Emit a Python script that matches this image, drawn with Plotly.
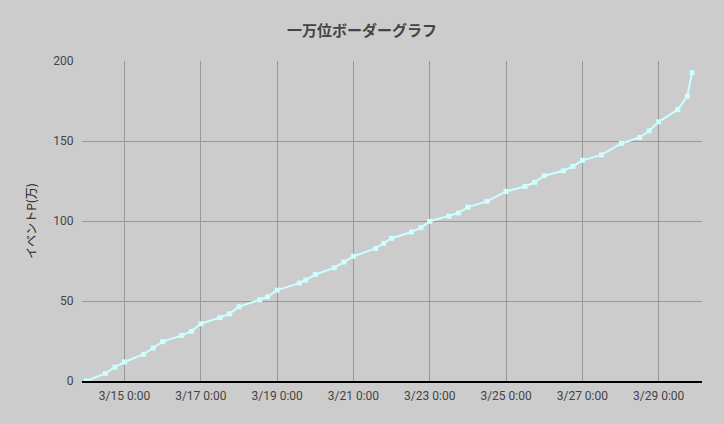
import plotly.graph_objects as go

# 一万位ボーダー (event points, unit: 万)
times = [
    "2024-03-14 00:00", "2024-03-14 12:00", "2024-03-14 18:00",
    "2024-03-15 00:00", "2024-03-15 12:00", "2024-03-15 18:00",
    "2024-03-16 00:00", "2024-03-16 12:00", "2024-03-16 18:00",
    "2024-03-17 00:00", "2024-03-17 12:00", "2024-03-17 18:00",
    "2024-03-18 00:00", "2024-03-18 13:00", "2024-03-18 18:00",
    "2024-03-19 00:00", "2024-03-19 14:00", "2024-03-19 18:00",
    "2024-03-20 00:00", "2024-03-20 12:00", "2024-03-20 18:00",
    "2024-03-21 00:00", "2024-03-21 14:00", "2024-03-21 19:00",
    "2024-03-22 00:00", "2024-03-22 12:30", "2024-03-22 18:30",
    "2024-03-23 00:00", "2024-03-23 12:00", "2024-03-23 18:00",
    "2024-03-24 00:00", "2024-03-24 12:00",
    "2024-03-25 00:00", "2024-03-25 12:00", "2024-03-25 18:00",
    "2024-03-26 00:00", "2024-03-26 12:00", "2024-03-26 18:00",
    "2024-03-27 00:00", "2024-03-27 12:00",
    "2024-03-28 00:30", "2024-03-28 12:00", "2024-03-28 18:00",
    "2024-03-29 00:00", "2024-03-29 12:00", "2024-03-29 18:00",
    "2024-03-29 21:00",
]
border = [
    0.0, 4.8, 8.7,
    11.9, 16.7, 20.6,
    24.6, 28.5, 31.0,
    35.8, 39.6, 42.0,
    46.4, 50.8, 52.6,
    56.8, 61.2, 63.1,
    66.6, 70.8, 74.4,
    77.9, 82.9, 86.0,
    89.2, 93.1, 95.9,
    99.8, 103.0, 105.0,
    108.7, 112.3,
    118.5, 121.6, 124.2,
    128.3, 131.4, 134.1,
    137.9, 141.3,
    148.5, 152.2, 156.4,
    162.0, 169.6, 177.9,
    192.7,
]

y_ticks = [0, 50, 100, 150, 200]

fig = go.Figure()
fig.add_trace(go.Scatter(
    x=times, y=border,
    mode="lines+markers",
    line=dict(color="#ccffff", width=2),
    marker=dict(symbol="square", size=5, color="#ccffff"),
    showlegend=False,
))

fig.update_layout(
    width=724, height=424,
    margin=dict(l=82, r=22, t=61, b=43),
    paper_bgcolor="#cccccc",
    plot_bgcolor="#cccccc",
    font=dict(family="Roboto, 'Noto Sans CJK JP', sans-serif", size=12, color="#444444"),
    title=dict(
        text="<b>一万位ボーダーグラフ</b>",
        x=0.5, xanchor="center", y=0.928, yanchor="middle",
        font=dict(family="'Noto Sans CJK JP', sans-serif", size=15, color="#444444"),
    ),
)
fig.update_xaxes(
    type="date",
    range=["2024-03-13 21:15", "2024-03-30 03:15"],
    tick0="2024-03-15", dtick=2 * 86400000,
    tickformat="%-m/%-d %-H:%M",
    showgrid=True, gridcolor="#999999", gridwidth=1,
    showline=True, linecolor="#000000", linewidth=1.5,
    ticks="outside", ticklen=3, tickcolor="rgba(0,0,0,0)",
    tickfont=dict(size=12, color="#444444"),
    zeroline=False,
)
fig.update_yaxes(
    range=[0, 200],
    tickvals=y_ticks,
    showgrid=True, gridcolor="#999999", gridwidth=1,
    zeroline=False,
    ticks="outside", ticklen=5, tickcolor="rgba(0,0,0,0)",
    tickfont=dict(size=12, color="#444444"),
    title=dict(
        text="イベントP(万)",
        font=dict(family="'Noto Sans CJK JP', sans-serif", size=12, color="#222222"),
        standoff=14,
    ),
)

# no page margin, so the grey background fills the whole window
fig.write_html(
    "out.html",
    config={"displayModeBar": False},
    post_script="document.body.style.margin='0';",
)
